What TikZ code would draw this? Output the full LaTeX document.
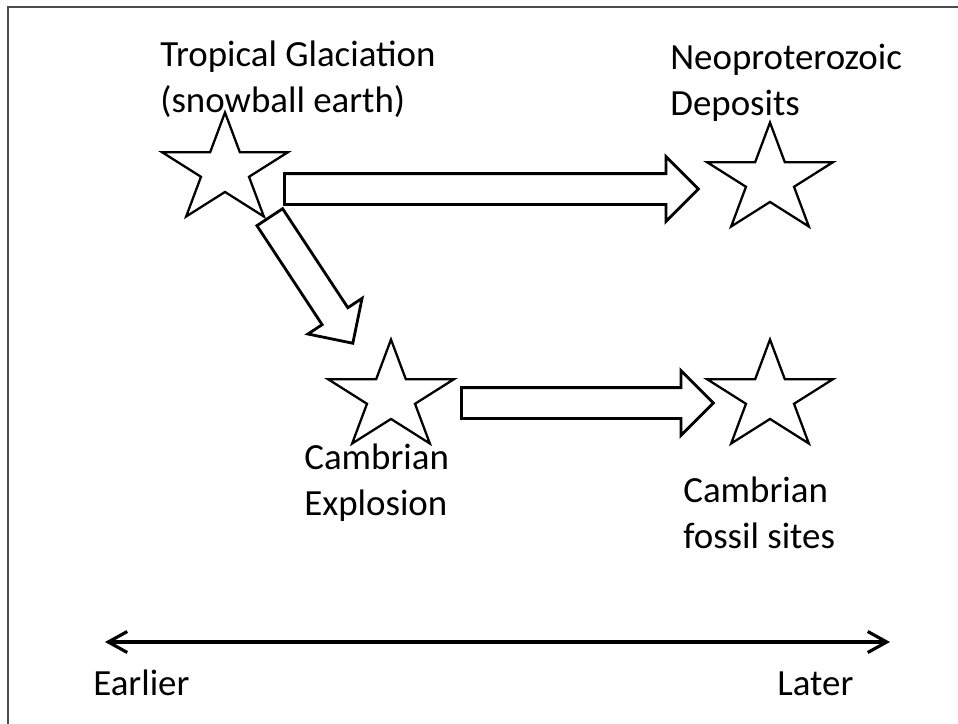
\documentclass[tikz,border=0pt]{standalone}
\usepackage{fontspec}
\setmainfont{Carlito}
\usetikzlibrary{shapes.geometric,shapes.arrows,arrows.meta}

\begin{document}
\begin{tikzpicture}[x=0.02cm, y=-0.02cm,
    frame/.style={draw=black!70, line width=1.1pt},
    event/.style={draw=black, line width=1.3pt, shape=star, star points=5,
        star point ratio=2.618, minimum size=2.3cm, inner sep=0pt, xscale=1.15},
    fat/.style={draw=black, line width=1.6pt, shape=single arrow,
        single arrow head extend=0.34cm, minimum width=0pt, inner sep=0pt,
        inner ysep=0.28cm, sloped, pos=0, anchor=tail},
    txt/.style={anchor=base west, inner sep=0pt, align=left,
        font=\fontsize{21}{26}\selectfont},
    timeline/.style={line width=1.8pt, line cap=round,
        >={Straight Barb[length=3.8mm, width=4.2mm]}, <->}]
    \useasboundingbox (0,0) rectangle (958,724);
    \draw[frame] (8,7) rectangle (990,760);

    \node[event] (S1) at (225,170) {};
    \node[event] (S2) at (770,180) {};
    \node[event] (S3) at (391,397) {};
    \node[event] (S4) at (770,397) {};

    % base = last line
    \node[txt] (T1) at (160,112) {Tropical Glaciation\\(snowball earth)};
    \node[txt] (T2) at (670,115) {Neoproterozoic\\Deposits};
    \node[txt] (T3) at (304,515) {Cambrian\\Explosion};
    \node[txt] (T4) at (683,548) {Cambrian\\fossil sites};

    % block arrows
    \coordinate (a1) at (283,189);
    \coordinate (a2) at (697,189);
    \coordinate (b1) at (269,216);
    \coordinate (b2) at (352,342);
    \coordinate (c1) at (460,403);
    \coordinate (c2) at (712,403);
    \path (a1) -- node[fat, minimum height=8.28cm] (A) {} (a2);
    \path (b1) -- node[fat, minimum height=3.02cm] (B) {} (b2);
    \path (c1) -- node[fat, minimum height=5.04cm] (C) {} (c2);

    % time axis
    \coordinate (t1) at (105,642);
    \coordinate (t2) at (890,642);
    \draw[timeline] (t1) -- (t2);
    \node[txt] (early) at (93,695) {Earlier};
    \node[txt] (late) at (777,695) {Later};
\end{tikzpicture}
\end{document}
